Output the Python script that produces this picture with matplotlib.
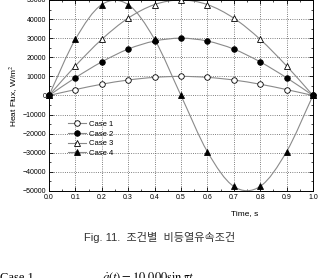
import matplotlib
matplotlib.use("Agg")
import matplotlib.pyplot as plt
from matplotlib.ticker import MultipleLocator
from matplotlib.path import Path
from matplotlib.patches import PathPatch
from matplotlib.lines import Line2D

plt.rcParams['font.family'] = ['Liberation Sans', 'Noto Sans CJK KR', 'DejaVu Sans']
plt.rcParams['mathtext.fontset'] = 'stix'

time = [0.0, 0.1, 0.2, 0.3, 0.4, 0.5, 0.6, 0.7, 0.8, 0.9, 1.0]
case1 = [0, 3100, 5900, 8100, 9500, 10000, 9500, 8100, 5900, 3100, 0]
case2 = [0, 9300, 17600, 24300, 28500, 30000, 28500, 24300, 17600, 9300, 0]
case3 = [0, 15500, 29400, 40500, 47600, 50000, 47600, 40500, 29400, 15500, 0]
case4 = [0, 29400, 47600, 47600, 29400, 0, -29400, -47600, -47600, -29400, 0]
labels = ["Case 1", "Case 2", "Case 3", "Case 4"]


def spline_path(xs, ys):
    """Catmull-Rom style smooth connection through the points (like Origin's spline)"""

    n = len(xs)
    verts = [(xs[0], ys[0])]
    codes = [Path.MOVETO]
    for i in range(n - 1):
        x0, y0 = (xs[i - 1], ys[i - 1]) if i > 0 else (2 * xs[0] - xs[1], -ys[1])
        x3, y3 = (xs[i + 2], ys[i + 2]) if i + 2 < n else (2 * xs[-1] - xs[-2], -ys[-2])
        x1, y1 = xs[i], ys[i]
        x2, y2 = xs[i + 1], ys[i + 1]
        c1 = (x1 + (x2 - x0) / 6, y1 + (y2 - y0) / 6)
        c2 = (x2 - (x3 - x1) / 6, y2 - (y3 - y1) / 6)
        verts += [c1, c2, (x2, y2)]
        codes += [Path.CURVE4] * 3
    return Path(verts, codes)


def main():
    fig = plt.figure(figsize=(3.2, 2.78), dpi=100)
    ax = fig.add_axes([0.153, 0.313, 0.825, 0.687])

    styles = [("o", "white"), ("o", "black"), ("^", "white"), ("^", "black")]
    handles = []
    for ys, lab, (m, fc) in zip([case1, case2, case3, case4], labels, styles):
        ax.add_patch(PathPatch(spline_path(time, ys), fill=False,
                               edgecolor="#8a8a8a", lw=0.8, zorder=2))
        ax.plot(time, ys, ls="none", marker=m, ms=4, mfc=fc, mec="black",
                mew=0.6, zorder=3, clip_on=False)
        handles.append(Line2D([], [], color="#8a8a8a", lw=0.8, marker=m,
                              ms=4, mfc=fc, mec="black", mew=0.6, label=lab))

    ax.set_xlim(0.0, 1.0)
    ax.set_ylim(-50000, 50000)
    ax.xaxis.set_major_locator(MultipleLocator(0.1))
    ax.yaxis.set_major_locator(MultipleLocator(10000))
    ax.yaxis.set_minor_locator(MultipleLocator(5000))
    ax.xaxis.set_minor_locator(MultipleLocator(0.05))
    ax.xaxis.set_major_formatter(lambda x, pos: f"{x:.1f}")
    ax.tick_params(which="both", direction="in", top=True, right=True,
                   labelsize=5, pad=2)
    ax.tick_params(which="major", length=3, width=0.6)
    ax.tick_params(which="minor", length=1.5, width=0.5)
    ax.grid(True, which="major", linestyle=":", color="#555555", lw=0.6)
    for s in ax.spines.values():
        s.set_linewidth(0.7)

    ax.set_xlabel("Time, s", fontsize=6, labelpad=3)
    ax.xaxis.set_label_coords(0.74, -0.1)
    ax.set_ylabel("Heat Flux, W/m$^2$", fontsize=6, labelpad=2)

    ax.legend(handles=handles, loc="lower left", bbox_to_anchor=(0.05, 0.15),
              fontsize=5.5, frameon=False, handlelength=2.4,
              handletextpad=0.4, labelspacing=0.3, borderpad=0.2)

    fig.text(0.5, 0.147, "Fig. 11.  조건별  비등열유속조건", ha="center",
             va="center", fontsize=8, color="#333333",
             family=['Liberation Sans', 'Noto Sans CJK KR'])
    fig.text(0.0, 0.0, "Case 1", ha="left", va="center", fontsize=9,
             family="Liberation Serif")
    fig.text(0.32, 0.0, r"$\dot{q}(t)=10{,}000\sin\pi t$", ha="left",
             va="center", fontsize=9)

    fig.savefig("out.png", dpi=100)


if __name__ == "__main__":
    main()
